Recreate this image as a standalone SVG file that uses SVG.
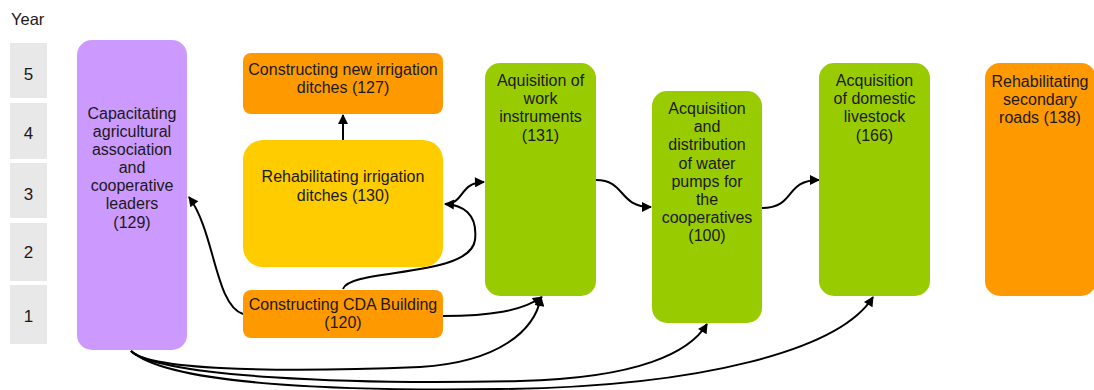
<svg xmlns="http://www.w3.org/2000/svg" width="1094" height="390" viewBox="0 0 1094 390">
  <style>
    text { font-family: "Liberation Sans", Arial, sans-serif; font-size: 16px; fill: #1a1a1a; }
    .c { text-anchor: middle; }
    .num { font-size: 17px; }
    .year { fill: #e8e8e8; }
    .purple { fill: #cc99ff; }
    .orange { fill: #ff9900; }
    .yellow { fill: #ffcc00; }
    .green { fill: #99cc00; }
    .link { fill: none; stroke: #000; stroke-width: 2; marker-end: url(#arrow); }
  </style>
  <defs>
    <marker id="arrow" viewBox="0 0 10 10" refX="9" refY="5" markerWidth="5.5" markerHeight="5" orient="auto" markerUnits="strokeWidth">
      <path d="M0,0 L10,5 L0,10 z" fill="#000"/>
    </marker>
  </defs>

  <!-- Year scale -->
  <g id="year-axis">
    <text x="11" y="25" style="font-size:16.5px">Year</text>
    <rect class="year" x="10" y="43" width="37" height="55"/>
    <rect class="year" x="10" y="103" width="37" height="56"/>
    <rect class="year" x="10" y="163" width="37" height="55"/>
    <rect class="year" x="10" y="223" width="37" height="58"/>
    <rect class="year" x="10" y="285" width="37" height="59"/>
    <text class="c num" x="28.5" y="80">5</text>
    <text class="c num" x="28.5" y="139">4</text>
    <text class="c num" x="28.5" y="200">3</text>
    <text class="c num" x="28.5" y="258">2</text>
    <text class="c num" x="28.5" y="322">1</text>
  </g>

  <!-- Connectors -->
  <g id="connectors">
    <path class="link" d="M243,314 C215,305 215,232 189,197"/>
    <path class="link" d="M343,289 C350,268 470,278 475,240 C478,213 462,205 445,204"/>
    <path class="link" d="M445,204 C466,203 458,183 484,182"/>
    <path class="link" d="M596,180 C626,180 618,207 651,207"/>
    <path class="link" d="M762,208 C796,208 784,180 819,180"/>
    <path class="link" d="M443,316 C490,316 522,311 542,297"/>
    <path class="link" d="M131,351 C150,372 300,372 420,367 C500,362 535,330 541,297"/>
    <path class="link" d="M131,351 C160,377 350,385 520,381 C640,378 690,352 707,324"/>
    <path class="link" d="M131,351 C170,386 350,391 500,389 C700,387 840,350 873,297"/>
    <path class="link" d="M343,140 L343,115"/>
  </g>

  <!-- Activity nodes -->
  <g id="node-129">
    <rect class="purple" x="77" y="40" width="110" height="310" rx="15"/>
    <text class="c" x="132" y="119">Capacitating</text>
    <text class="c" x="132" y="137">agricultural</text>
    <text class="c" x="132" y="155">association</text>
    <text class="c" x="132" y="173">and</text>
    <text class="c" x="132" y="191">cooperative</text>
    <text class="c" x="132" y="209">leaders</text>
    <text class="c" x="132" y="228">(129)</text>
  </g>

  <g id="node-127">
    <rect class="orange" x="243" y="53" width="200" height="61" rx="8"/>
    <text class="c" x="343" y="75">Constructing new irrigation</text>
    <text class="c" x="343" y="93">ditches (127)</text>
  </g>

  <g id="node-130">
    <rect class="yellow" x="243" y="140" width="200" height="127" rx="20"/>
    <text class="c" x="343" y="182">Rehabilitating irrigation</text>
    <text class="c" x="343" y="201">ditches (130)</text>
  </g>

  <g id="node-120">
    <rect class="orange" x="243" y="290" width="200" height="48" rx="8"/>
    <text class="c" x="343" y="310">Constructing CDA Building</text>
    <text class="c" x="343" y="328">(120)</text>
  </g>

  <g id="node-131">
    <rect class="green" x="485" y="63" width="111" height="233" rx="15"/>
    <text class="c" x="540.5" y="86">Aquisition of</text>
    <text class="c" x="540.5" y="104">work</text>
    <text class="c" x="540.5" y="122">instruments</text>
    <text class="c" x="540.5" y="141">(131)</text>
  </g>

  <g id="node-100">
    <rect class="green" x="652" y="91" width="110" height="232" rx="15"/>
    <text class="c" x="707" y="114">Acquisition</text>
    <text class="c" x="707" y="132">and</text>
    <text class="c" x="707" y="150">distribution</text>
    <text class="c" x="707" y="169">of water</text>
    <text class="c" x="707" y="187">pumps for</text>
    <text class="c" x="707" y="205">the</text>
    <text class="c" x="707" y="223">cooperatives</text>
    <text class="c" x="707" y="241">(100)</text>
  </g>

  <g id="node-166">
    <rect class="green" x="819" y="63" width="111" height="233" rx="15"/>
    <text class="c" x="874.5" y="86">Acquisition</text>
    <text class="c" x="874.5" y="104">of domestic</text>
    <text class="c" x="874.5" y="122">livestock</text>
    <text class="c" x="874.5" y="141">(166)</text>
  </g>

  <g id="node-138">
    <rect class="orange" x="985" y="63" width="111" height="233" rx="15"/>
    <text class="c" x="1040" y="87">Rehabilitating</text>
    <text class="c" x="1040" y="105">secondary</text>
    <text class="c" x="1040" y="123">roads (138)</text>
  </g>
</svg>
